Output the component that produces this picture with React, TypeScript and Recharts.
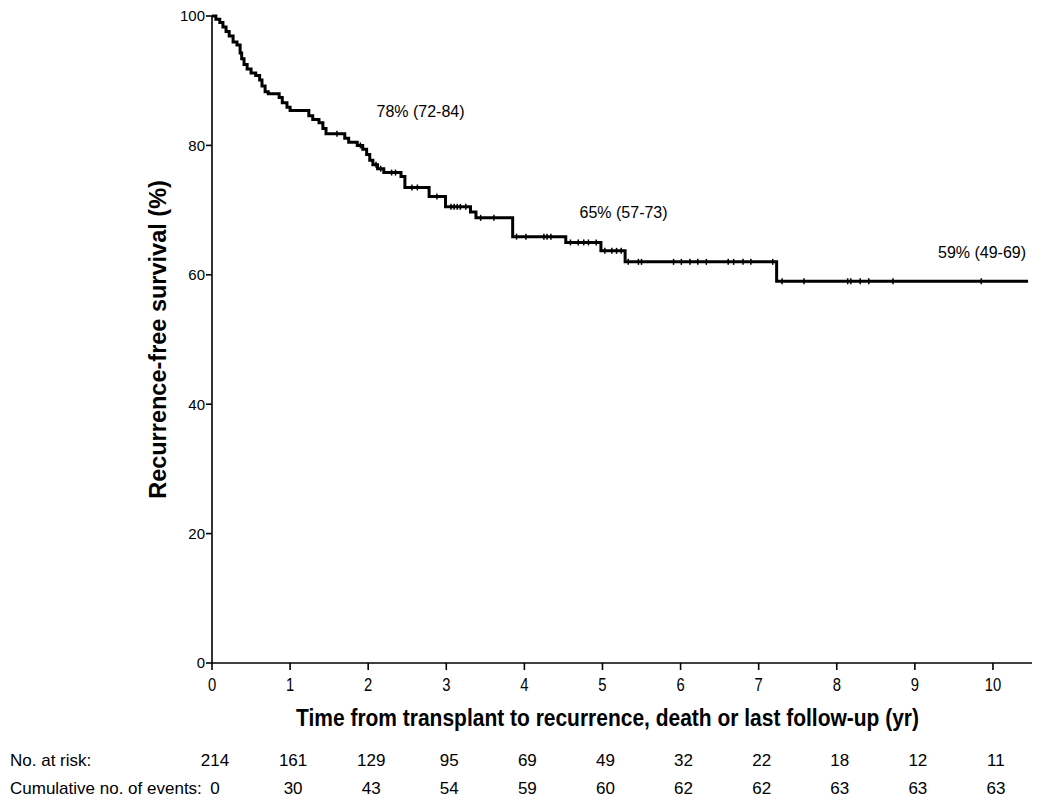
import { ComposedChart, Line, Scatter, XAxis, YAxis, Label, ReferenceDot } from "recharts";

// Kaplan-Meier step points: time (yr) at which survival drops to value (%)
const eventTimes = [
  0, 0.05, 0.1, 0.14, 0.18, 0.22, 0.27, 0.32, 0.36, 0.38, 0.41, 0.45, 0.5, 0.56, 0.61, 0.64,
  0.68, 0.72, 0.86, 0.9, 0.96, 1.0, 1.24, 1.29, 1.37, 1.42, 1.46, 1.7, 1.75, 1.86, 1.93, 1.98,
  2.02, 2.06, 2.12, 2.2, 2.42, 2.47, 2.78, 2.99, 3.31, 3.38, 3.85, 4.53, 4.98, 5.29, 7.23, 10.45,
];
const survival = [
  100, 99.5, 99.0, 98.3, 97.6, 96.9, 96.0, 95.5, 94.3, 93.4, 92.5, 91.8, 91.2, 90.8, 90.1, 89.2,
  88.3, 88.0, 87.4, 86.6, 85.9, 85.4, 84.6, 84.0, 83.5, 82.6, 81.8, 81.1, 80.5, 80.0, 79.4, 78.6,
  77.7, 77.0, 76.4, 75.8, 75.2, 73.5, 72.1, 70.5, 69.7, 68.8, 65.9, 65.0, 63.7, 62.0, 59.0, 59.0,
];

// censored observations (tick marks on the curve)
const censorTimes = [
  1.6, 1.9, 2.1, 2.16, 2.3, 2.35, 2.56, 2.63, 2.88, 3.06, 3.1, 3.14, 3.18, 3.25, 3.44, 3.61,
  3.9, 4.02, 4.25, 4.29, 4.34, 4.59, 4.69, 4.76, 4.82, 4.92, 5.03, 5.12, 5.18, 5.24,
  5.33, 5.46, 5.5, 5.91, 6.01, 6.12, 6.22, 6.33, 6.61, 6.68, 6.8, 6.9, 7.18,
  7.3, 7.58, 8.14, 8.18, 8.3, 8.41, 8.72, 9.85,
];

const xTicks = [0, 1, 2, 3, 4, 5, 6, 7, 8, 9, 10];
const yTicks = [0, 20, 40, 60, 80, 100];
const atRisk = [214, 161, 129, 95, 69, 49, 32, 22, 18, 12, 11];
const cumEvents = [0, 30, 43, 54, 59, 60, 62, 62, 63, 63, 63];

const annotations = [
  { t: 2.67, s: 85.2, text: "78% (72-84)" },
  { t: 5.27, s: 69.6, text: "65% (57-73)" },
  { t: 9.86, s: 63.5, text: "59% (49-69)" },
];

const kmData = eventTimes.map((t, i) => ({ t, s: survival[i] }));

function survivalAt(t: number) {
  let v = survival[0];
  for (let i = 0; i < eventTimes.length; i++) {
    if (eventTimes[i] <= t) v = survival[i];
  }
  return v;
}
const censorData = censorTimes.map((t) => ({ t, s: survivalAt(t) }));

const ARIAL = "'Liberation Sans', Arial, sans-serif";

// eslint-disable-next-line @typescript-eslint/no-explicit-any
const CensorTick = (props: any) => {
  const { cx, cy } = props;
  if (cx == null || cy == null) return <g />;
  return <line x1={cx} x2={cx} y1={cy - 3} y2={cy + 3} stroke="#000" strokeWidth={1.5} />;
};

// x tick: year label plus the risk table rows underneath
// eslint-disable-next-line @typescript-eslint/no-explicit-any
const XTick = (props: any) => {
  const { x, y, payload } = props;
  const i = xTicks.indexOf(payload.value);
  return (
    <g fill="#000" fontFamily={ARIAL}>
      <text transform={`translate(${x},${y + 13.5}) scale(0.78,1)`} textAnchor="middle" fontSize={19}>
        {payload.value}
      </text>
      <text x={x + 3} y={y + 89} textAnchor="middle" fontSize={17}>{atRisk[i]}</text>
      <text x={x + 3} y={y + 117} textAnchor="middle" fontSize={17}>{cumEvents[i]}</text>
      {i === 0 && (
        <>
          <text x={10} y={y + 89} fontSize={17}>No. at risk:</text>
          <text x={10} y={y + 117} fontSize={17}>Cumulative no. of events:</text>
        </>
      )}
    </g>
  );
};

// eslint-disable-next-line @typescript-eslint/no-explicit-any
const XTitle = (props: any) => {
  const { viewBox } = props;
  const cx = viewBox.x + viewBox.width / 2 - 15;
  return (
    <text
      x={cx - 311}
      y={viewBox.y + 63}
      textLength={623}
      lengthAdjust="spacingAndGlyphs"
      fill="#000"
      fontSize={23}
      fontWeight="bold"
      fontFamily={ARIAL}
    >
      Time from transplant to recurrence, death or last follow-up (yr)
    </text>
  );
};

export default function App() {
  return (
    <div style={{ position: "absolute", left: 0, top: 0, width: 1050, height: 810, background: "#fff" }}>
      <ComposedChart width={1050} height={810} margin={{ top: 16, right: 18, left: 152, bottom: 13 }}>
        <XAxis
          type="number"
          dataKey="t"
          domain={[0, 10.5]}
          ticks={xTicks}
          height={134}
          allowDataOverflow
          interval={0}
          axisLine={{ stroke: "#000", strokeWidth: 1.6 }}
          tickLine={{ stroke: "#000", strokeWidth: 1.6 }}
          tickSize={7}
          tickMargin={7}
          tick={XTick}
        >
          <Label content={XTitle} />
        </XAxis>
        <YAxis
          type="number"
          domain={[0, 100]}
          ticks={yTicks}
          width={60}
          interval={0}
          axisLine={{ stroke: "#000", strokeWidth: 1.6 }}
          tickLine={{ stroke: "#000", strokeWidth: 1.6 }}
          tickSize={6}
          tickMargin={1}
          tick={{ fill: "#000", fontSize: 15, fontFamily: ARIAL }}
        >
          <Label
            value="Recurrence-free survival (%)"
            angle={-90}
            position="insideLeft"
            offset={6}
            style={{ fill: "#000", fontSize: 23.5, fontWeight: "bold", fontFamily: ARIAL, textAnchor: "middle" }}
          />
        </YAxis>
        <Line
          data={kmData}
          dataKey="s"
          type="stepAfter"
          stroke="#000"
          strokeWidth={3}
          dot={false}
          activeDot={false}
          isAnimationActive={false}
        />
        <Scatter data={censorData} dataKey="s" shape={CensorTick} isAnimationActive={false} />
        {annotations.map((a) => (
          <ReferenceDot key={a.text} x={a.t} y={a.s} r={0} fill="none" stroke="none">
            <Label value={a.text} position="center" style={{ fill: "#000", fontSize: 16, fontFamily: ARIAL }} />
          </ReferenceDot>
        ))}
      </ComposedChart>
    </div>
  );
}
